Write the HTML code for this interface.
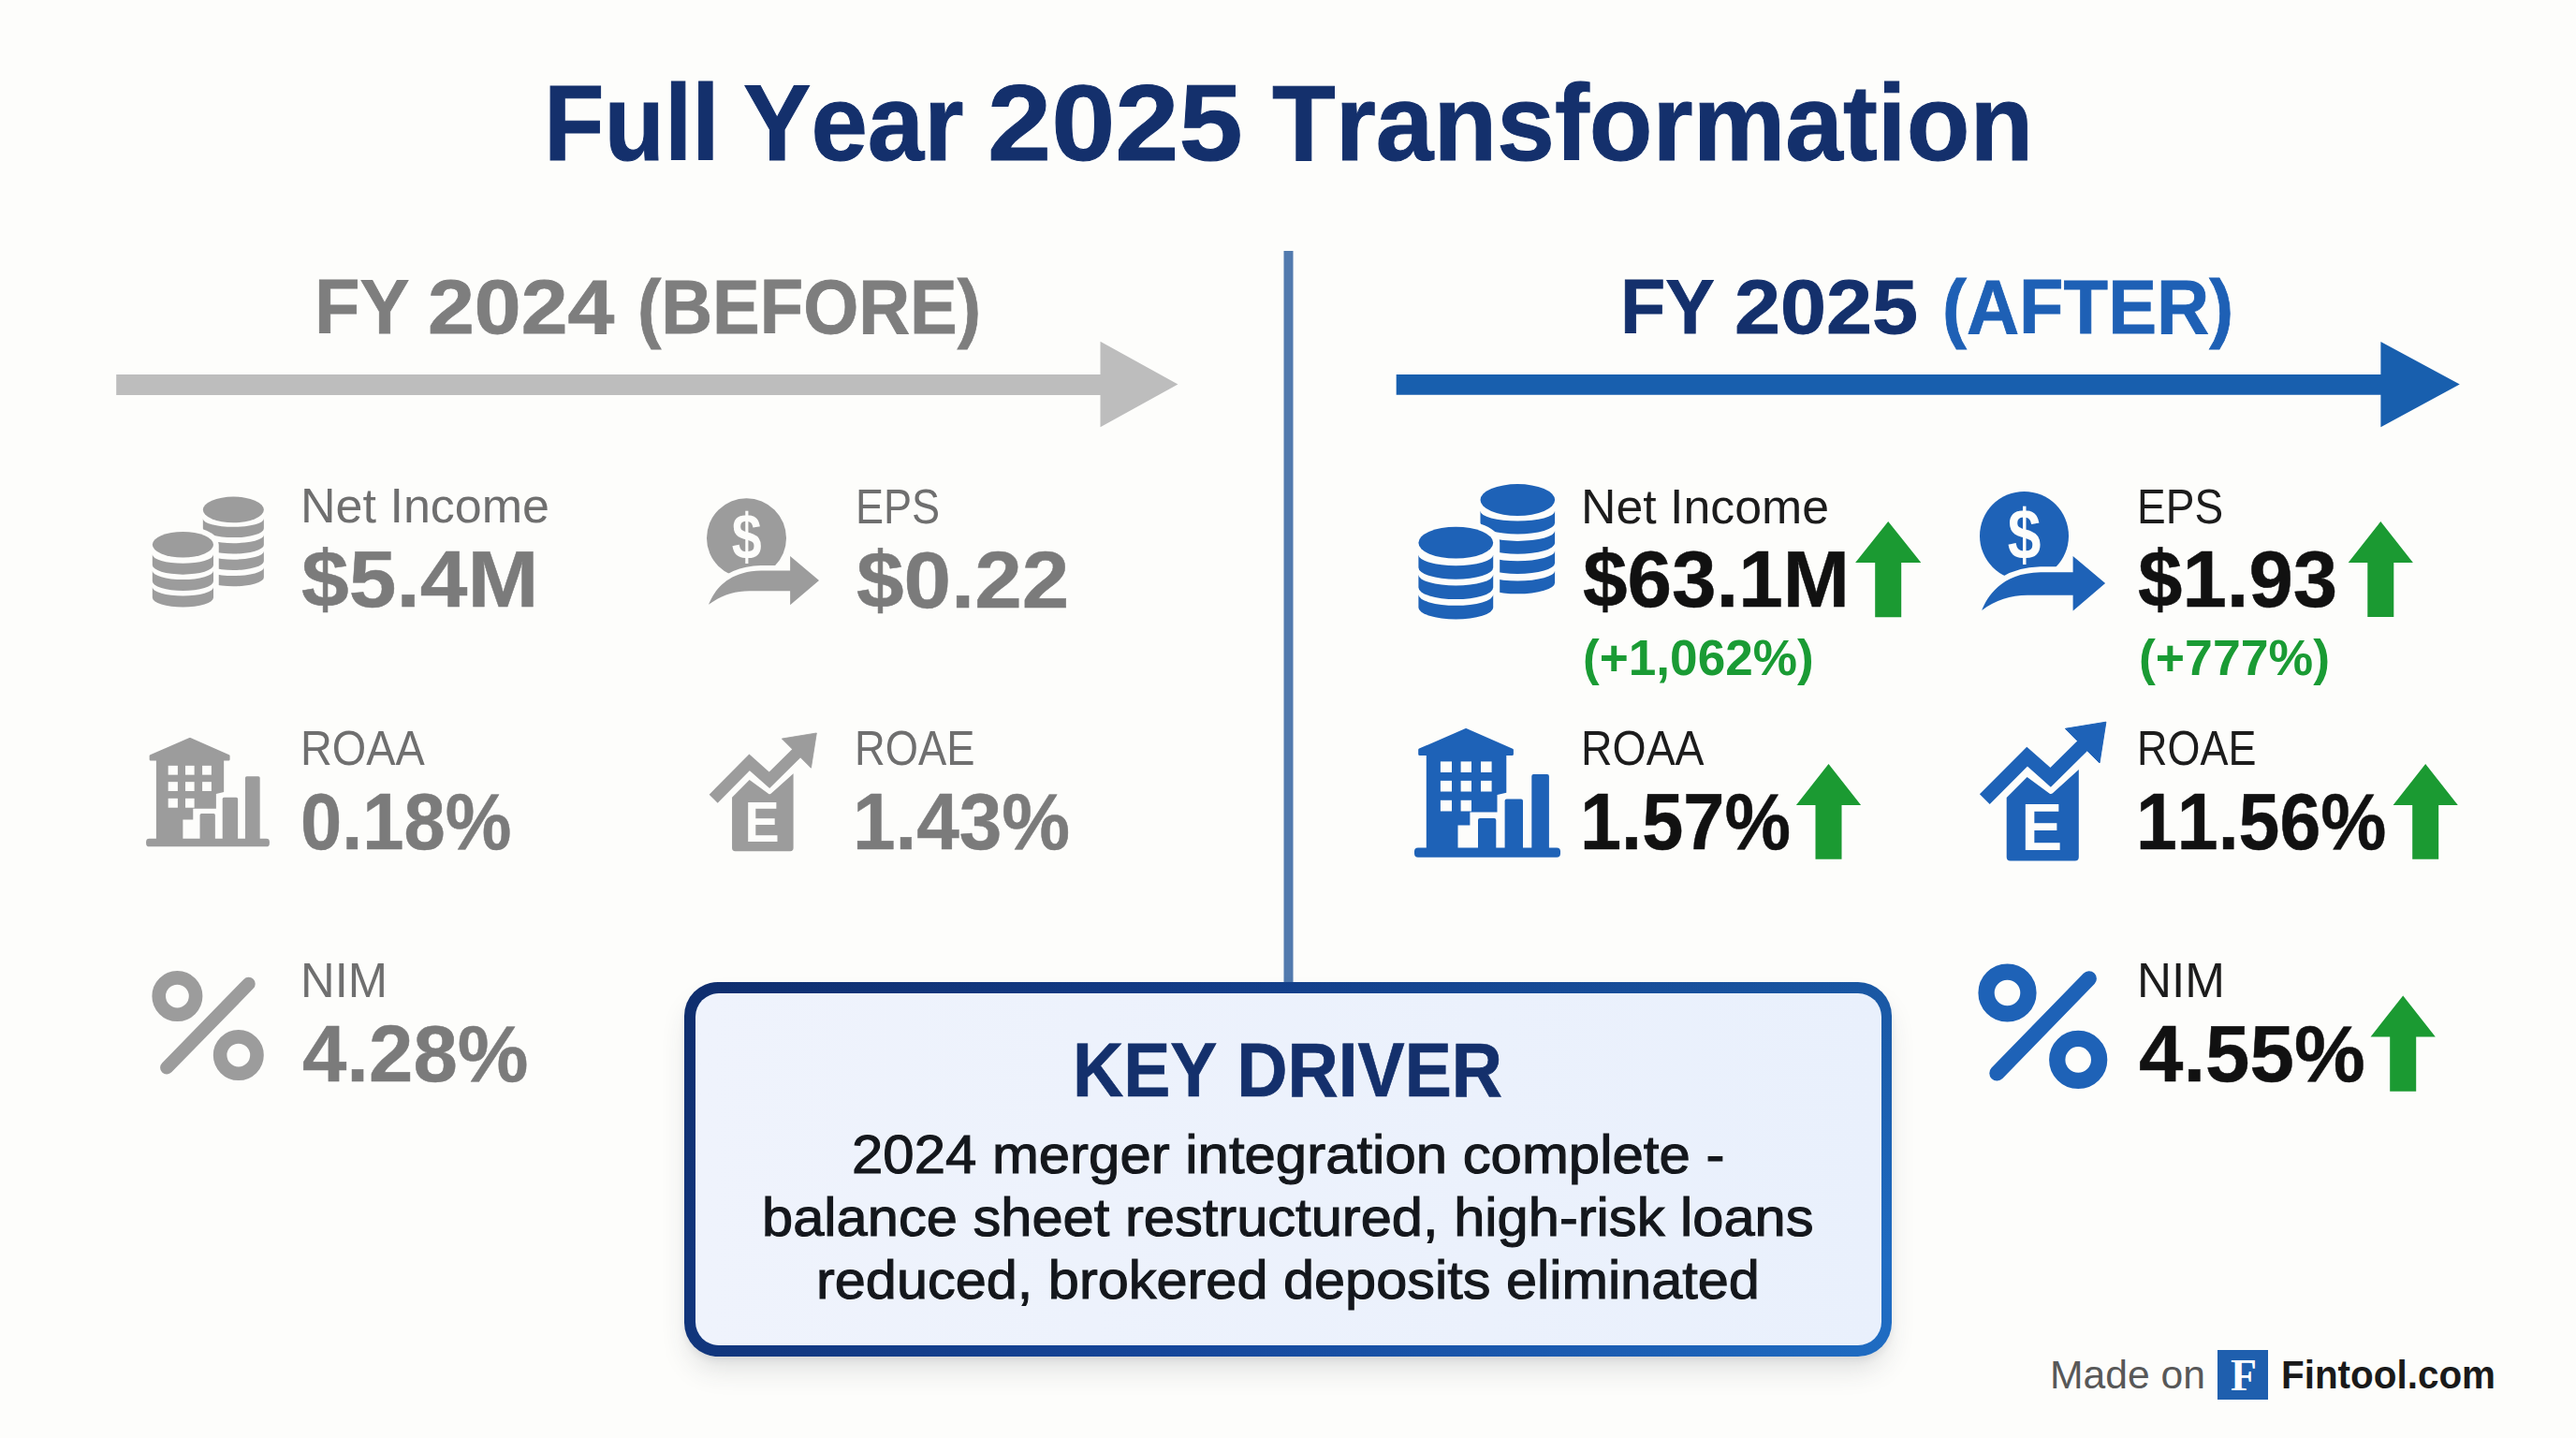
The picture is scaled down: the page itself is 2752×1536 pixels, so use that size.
<!DOCTYPE html>
<html lang="en">
<head>
<meta charset="utf-8">
<title>Full Year 2025 Transformation</title>
<style>
html,body,h1,h2,h3,p,header,section,footer{margin:0;padding:0;}
body{width:2752px;height:1536px;position:relative;overflow:hidden;background:#fdfdfb;font-family:"Liberation Sans", sans-serif;}
.t{position:absolute;display:block;white-space:pre;line-height:1;transform-origin:0 0;font-kerning:none;letter-spacing:0;}
#gfx{position:absolute;left:0;top:0;width:2752px;height:1536px;}
#box{position:absolute;left:731px;top:1049px;width:1290px;height:399.6px;box-sizing:border-box;border-radius:36px;
 background:linear-gradient(180deg,rgba(8,22,66,.24) 0%,rgba(8,22,66,0) 75%),linear-gradient(90deg,#11357b 0%,#15469a 40%,#1f6cc2 100%);
 box-shadow:0 18px 30px -5px rgba(50,55,70,.15),0 5px 9px -2px rgba(50,55,70,.09);}
#box i{position:absolute;left:11.5px;top:11.5px;right:11.5px;bottom:11.5px;border-radius:25px;background:linear-gradient(90deg,#eff3fc,#e9f0fc);}
#logo{position:absolute;left:2369px;top:1441.7px;width:54px;height:53.3px;background:#1f5fae;}
</style>
</head>
<body>
<svg id="gfx" width="2752" height="1536" viewBox="0 0 2752 1536">
<rect x="1371.5" y="268" width="10" height="790" fill="#527aae"/>
<path d="M124.2 400H1175.5V364.7L1258.4 410.5L1175.5 456.2V422H124.2Z" fill="#bdbdbd"/>
<path d="M1491.7 400H2543.4V364.9L2627.8 410.5L2543.4 456.3V421.8H1491.7Z" fill="#185fae"/>
<path d="M2017.2 557L2052.3 601H2031.2V659.2H2003.2V601H1982.1000000000001Z" fill="#1b9a32"/>
<path d="M2543.3 557L2577.9 601H2557.3V658.9H2529.3V601H2508.7000000000003Z" fill="#1b9a32"/>
<path d="M1953.5 815.9L1988.1 859.9H1967.5V917.7H1939.5V859.9H1918.9Z" fill="#1b9a32"/>
<path d="M2591.2 815.9L2625.7999999999997 859.9H2605.2V917.7H2577.2V859.9H2556.6Z" fill="#1b9a32"/>
<path d="M2567.2 1063.4L2601.7999999999997 1107.4H2581.2V1165.8H2553.2V1107.4H2532.6Z" fill="#1b9a32"/>
<g fill="#1e62b7"><ellipse cx="1621.3" cy="534.1" rx="39.8" ry="17"/><path d="M1581.5 545.80A39.8 10.8 0 0 0 1661.1 545.80V558.60A39.8 11.8 0 0 1 1581.5 558.60Z"/><path d="M1581.5 567.10A39.8 10.8 0 0 0 1661.1 567.10V579.90A39.8 11.8 0 0 1 1581.5 579.90Z"/><path d="M1581.5 588.40A39.8 10.8 0 0 0 1661.1 588.40V601.20A39.8 11.8 0 0 1 1581.5 601.20Z"/><path d="M1581.5 609.70A39.8 10.8 0 0 0 1661.1 609.70V622.50A39.8 11.8 0 0 1 1581.5 622.50Z"/><g fill="#fdfdfb" stroke="#fdfdfb" stroke-width="14" stroke-linejoin="round"><path d="M1515.3999999999999 579.7A39.9 16.9 0 0 1 1595.2 579.7V648.90A39.9 12.5 0 0 1 1515.3999999999999 648.90Z"/></g><ellipse cx="1555.3" cy="579.7" rx="39.9" ry="16.9"/><path d="M1515.3999999999999 592.70A39.9 11.5 0 0 0 1595.2 592.70V606.30A39.9 12.5 0 0 1 1515.3999999999999 606.30Z"/><path d="M1515.3999999999999 614.00A39.9 11.5 0 0 0 1595.2 614.00V627.60A39.9 12.5 0 0 1 1515.3999999999999 627.60Z"/><path d="M1515.3999999999999 635.30A39.9 11.5 0 0 0 1595.2 635.30V648.90A39.9 12.5 0 0 1 1515.3999999999999 648.90Z"/></g>
<g fill="#9c9c9c" transform="translate(222.30 589.60) scale(0.817) translate(-1588.20 -589.35)"><ellipse cx="1621.3" cy="534.1" rx="39.8" ry="17"/><path d="M1581.5 545.80A39.8 10.8 0 0 0 1661.1 545.80V558.60A39.8 11.8 0 0 1 1581.5 558.60Z"/><path d="M1581.5 567.10A39.8 10.8 0 0 0 1661.1 567.10V579.90A39.8 11.8 0 0 1 1581.5 579.90Z"/><path d="M1581.5 588.40A39.8 10.8 0 0 0 1661.1 588.40V601.20A39.8 11.8 0 0 1 1581.5 601.20Z"/><path d="M1581.5 609.70A39.8 10.8 0 0 0 1661.1 609.70V622.50A39.8 11.8 0 0 1 1581.5 622.50Z"/><g fill="#fdfdfb" stroke="#fdfdfb" stroke-width="14" stroke-linejoin="round"><path d="M1515.3999999999999 579.7A39.9 16.9 0 0 1 1595.2 579.7V648.90A39.9 12.5 0 0 1 1515.3999999999999 648.90Z"/></g><ellipse cx="1555.3" cy="579.7" rx="39.9" ry="16.9"/><path d="M1515.3999999999999 592.70A39.9 11.5 0 0 0 1595.2 592.70V606.30A39.9 12.5 0 0 1 1515.3999999999999 606.30Z"/><path d="M1515.3999999999999 614.00A39.9 11.5 0 0 0 1595.2 614.00V627.60A39.9 12.5 0 0 1 1515.3999999999999 627.60Z"/><path d="M1515.3999999999999 635.30A39.9 11.5 0 0 0 1595.2 635.30V648.90A39.9 12.5 0 0 1 1515.3999999999999 648.90Z"/></g>
<g fill="#1e62b7"><circle cx="2162.5" cy="572.4" r="47.5"/><path d="M2117.2 651.9C2123 638 2137 612 2180 611.2H2214.6V594L2249.1 622.9L2214.6 652.4V635.7H2166C2148 635.7 2132 641 2117.2 651.9Z" fill="#fdfdfb" stroke="#fdfdfb" stroke-width="12" stroke-linejoin="round"/><path d="M2117.2 651.9C2123 638 2137 612 2180 611.2H2214.6V594L2249.1 622.9L2214.6 652.4V635.7H2166C2148 635.7 2132 641 2117.2 651.9Z"/><text transform="translate(2144.8 597.2) scale(0.835 1)" font-family="Liberation Sans, sans-serif" font-weight="700" font-size="76.8" fill="#fdfdfb">$</text></g>
<g fill="#9c9c9c" transform="translate(814.95 589.55) scale(0.895) translate(-2182.00 -589.00)"><circle cx="2162.5" cy="572.4" r="47.5"/><path d="M2117.2 651.9C2123 638 2137 612 2180 611.2H2214.6V594L2249.1 622.9L2214.6 652.4V635.7H2166C2148 635.7 2132 641 2117.2 651.9Z" fill="#fdfdfb" stroke="#fdfdfb" stroke-width="12" stroke-linejoin="round"/><path d="M2117.2 651.9C2123 638 2137 612 2180 611.2H2214.6V594L2249.1 622.9L2214.6 652.4V635.7H2166C2148 635.7 2132 641 2117.2 651.9Z"/><text transform="translate(2144.8 597.2) scale(0.835 1)" font-family="Liberation Sans, sans-serif" font-weight="700" font-size="76.8" fill="#fdfdfb">$</text></g>
<g fill="#1e62b7"><rect x="1511" y="905.6" width="156" height="10.2" rx="4"/><path d="M1523.8 805.9H1609.3V846.7L1599.5 849V867.6H1570.4V881.6H1557.5V906H1523.8Z"/><path d="M1566.4 779.5L1615.4 801V805.5H1516.7V801Z" stroke="#1e62b7" stroke-width="3" stroke-linejoin="round"/><rect x="1538.9" y="813.4" width="12.1" height="11.6" fill="#fdfdfb"/><rect x="1538.9" y="833.9" width="12.1" height="11.6" fill="#fdfdfb"/><rect x="1538.9" y="854.8" width="12.1" height="11.7" fill="#fdfdfb"/><rect x="1560.6" y="813.4" width="11.4" height="11.6" fill="#fdfdfb"/><rect x="1560.6" y="833.9" width="11.4" height="11.6" fill="#fdfdfb"/><rect x="1560.6" y="854.8" width="11.4" height="11.7" fill="#fdfdfb"/><rect x="1582" y="813.4" width="11.6" height="11.6" fill="#fdfdfb"/><rect x="1582" y="833.9" width="11.6" height="11.6" fill="#fdfdfb"/><path d="M1579 906V875.9Q1579 873.9 1581 873.9H1596.3Q1598.3 873.9 1598.3 875.9V906Z"/><path d="M1607.6 906V855.6Q1607.6 853.6 1609.6 853.6H1625Q1627 853.6 1627 855.6V906Z"/><path d="M1636.3 906V828.9Q1636.3 826.9 1638.3 826.9H1652.9Q1654.9 826.9 1654.9 828.9V906Z"/></g>
<g fill="#9c9c9c" transform="translate(222.00 846.15) scale(0.845) translate(-1589.00 -846.90)"><rect x="1511" y="905.6" width="156" height="10.2" rx="4"/><path d="M1523.8 805.9H1609.3V846.7L1599.5 849V867.6H1570.4V881.6H1557.5V906H1523.8Z"/><path d="M1566.4 779.5L1615.4 801V805.5H1516.7V801Z" stroke="#9c9c9c" stroke-width="3" stroke-linejoin="round"/><rect x="1538.9" y="813.4" width="12.1" height="11.6" fill="#fdfdfb"/><rect x="1538.9" y="833.9" width="12.1" height="11.6" fill="#fdfdfb"/><rect x="1538.9" y="854.8" width="12.1" height="11.7" fill="#fdfdfb"/><rect x="1560.6" y="813.4" width="11.4" height="11.6" fill="#fdfdfb"/><rect x="1560.6" y="833.9" width="11.4" height="11.6" fill="#fdfdfb"/><rect x="1560.6" y="854.8" width="11.4" height="11.7" fill="#fdfdfb"/><rect x="1582" y="813.4" width="11.6" height="11.6" fill="#fdfdfb"/><rect x="1582" y="833.9" width="11.6" height="11.6" fill="#fdfdfb"/><path d="M1579 906V875.9Q1579 873.9 1581 873.9H1596.3Q1598.3 873.9 1598.3 875.9V906Z"/><path d="M1607.6 906V855.6Q1607.6 853.6 1609.6 853.6H1625Q1627 853.6 1627 855.6V906Z"/><path d="M1636.3 906V828.9Q1636.3 826.9 1638.3 826.9H1652.9Q1654.9 826.9 1654.9 828.9V906Z"/></g>
<g fill="#1e62b7"><path d="M2143.7 852L2165.6 829.9L2189.4 847.4Q2191.2 848.7 2192.9 847.2L2220.8 822.1V915.6Q2220.8 919.6 2216.8 919.6H2147.7Q2143.7 919.6 2143.7 915.6Z"/><path d="M2120.3 853.7L2165.6 808.1L2190.6 830.3L2226 795.4" fill="none" stroke="#1e62b7" stroke-width="15.2" stroke-linejoin="miter"/><path d="M2206.4 778.3L2249.9 771.2L2243 815Z" stroke="#1e62b7" stroke-width="1" stroke-linejoin="round"/><text transform="translate(2159.4 907.8) scale(0.924 1)" font-family="Liberation Sans, sans-serif" font-weight="700" font-size="70.8" fill="#fdfdfb">E</text></g>
<g fill="#9c9c9c" transform="translate(814.95 845.70) scale(0.85) translate(-2182.40 -844.95)"><path d="M2143.7 852L2165.6 829.9L2189.4 847.4Q2191.2 848.7 2192.9 847.2L2220.8 822.1V915.6Q2220.8 919.6 2216.8 919.6H2147.7Q2143.7 919.6 2143.7 915.6Z"/><path d="M2120.3 853.7L2165.6 808.1L2190.6 830.3L2226 795.4" fill="none" stroke="#9c9c9c" stroke-width="15.0" stroke-linejoin="miter"/><path d="M2206.4 778.3L2249.9 771.2L2243 815Z" stroke="#9c9c9c" stroke-width="1" stroke-linejoin="round"/><text transform="translate(2159.4 907.8) scale(0.924 1)" font-family="Liberation Sans, sans-serif" font-weight="700" font-size="70.8" fill="#fdfdfb">E</text></g>
<g fill="none" stroke="#1e62b7"><circle cx="2144.5" cy="1060.5" r="22.450000000000003" stroke-width="17.3"/><circle cx="2220.2" cy="1131.9" r="22.450000000000003" stroke-width="17.3"/><path d="M2231.7 1045.4L2133.5 1146.3" stroke-width="16.4" stroke-linecap="round"/></g>
<g fill="none" stroke="#9c9c9c"><circle cx="189.4" cy="1064.1" r="19.7" stroke-width="14.6"/><circle cx="254.8" cy="1127.1" r="19.7" stroke-width="14.6"/><path d="M265.6 1050.9L178.2 1140.4" stroke-width="14.2" stroke-linecap="round"/></g>
</svg>
<div id="box"><i></i></div>
<div id="logo"></div>
<header><h1>
<span class="t" style="left:581.4px;top:74.1px;font-size:114.4px;font-weight:700;color:#14306c;font-family:'Liberation Sans', sans-serif;transform:scaleX(0.9224);-webkit-text-stroke:1.0px #14306c;">Full</span>
<span class="t" style="left:793.6px;top:74.1px;font-size:114.4px;font-weight:700;color:#14306c;font-family:'Liberation Sans', sans-serif;transform:scaleX(0.9494);-webkit-text-stroke:1.0px #14306c;">Year</span>
<span class="t" style="left:1055.3px;top:74.1px;font-size:114.4px;font-weight:700;color:#14306c;font-family:'Liberation Sans', sans-serif;transform:scaleX(1.0715);-webkit-text-stroke:1.0px #14306c;">2025</span>
<span class="t" style="left:1359.3px;top:74.1px;font-size:114.4px;font-weight:700;color:#14306c;font-family:'Liberation Sans', sans-serif;transform:scaleX(0.9692);-webkit-text-stroke:1.0px #14306c;">Transformation</span>
</h1></header>
<section id="before"><h2>
<span class="t" style="left:336.3px;top:287.7px;font-size:80.7px;font-weight:700;color:#7e7e7e;font-family:'Liberation Sans', sans-serif;transform:scaleX(0.9835);-webkit-text-stroke:0.8px #7e7e7e;">FY</span>
<span class="t" style="left:457.3px;top:287.7px;font-size:80.7px;font-weight:700;color:#7e7e7e;font-family:'Liberation Sans', sans-serif;transform:scaleX(1.1105);-webkit-text-stroke:0.8px #7e7e7e;">2024</span>
<span class="t" style="left:681.0px;top:287.7px;font-size:80.7px;font-weight:700;color:#7e7e7e;font-family:'Liberation Sans', sans-serif;transform:scaleX(0.9410);-webkit-text-stroke:0.8px #7e7e7e;">(BEFORE)</span>
</h2>
<div class="metric">
<span class="t" style="left:320.7px;top:515.4px;font-size:51.6px;font-weight:400;color:#6f6f6f;font-family:'Liberation Sans', sans-serif;transform:scaleX(1.0085);">Net Income</span>
<span class="t" style="left:322.3px;top:577.2px;font-size:84.7px;font-weight:700;color:#7b7b7b;font-family:'Liberation Sans', sans-serif;transform:scaleX(1.0764);-webkit-text-stroke:0.5px #7b7b7b;">$5.4M</span>
</div><div class="metric">
<span class="t" style="left:913.8px;top:516.3px;font-size:51.6px;font-weight:400;color:#6f6f6f;font-family:'Liberation Sans', sans-serif;transform:scaleX(0.8733);">EPS</span>
<span class="t" style="left:914.5px;top:577.5px;font-size:84.7px;font-weight:700;color:#7b7b7b;font-family:'Liberation Sans', sans-serif;transform:scaleX(1.0730);-webkit-text-stroke:0.5px #7b7b7b;">$0.22</span>
</div><div class="metric">
<span class="t" style="left:320.8px;top:774.2px;font-size:51.6px;font-weight:400;color:#6f6f6f;font-family:'Liberation Sans', sans-serif;transform:scaleX(0.9084);">ROAA</span>
<span class="t" style="left:321.2px;top:836.1px;font-size:84.7px;font-weight:700;color:#7b7b7b;font-family:'Liberation Sans', sans-serif;transform:scaleX(0.9387);-webkit-text-stroke:0.5px #7b7b7b;">0.18%</span>
</div><div class="metric">
<span class="t" style="left:913.2px;top:774.2px;font-size:51.6px;font-weight:400;color:#6f6f6f;font-family:'Liberation Sans', sans-serif;transform:scaleX(0.8778);">ROAE</span>
<span class="t" style="left:911.1px;top:836.1px;font-size:84.7px;font-weight:700;color:#7b7b7b;font-family:'Liberation Sans', sans-serif;transform:scaleX(0.9669);-webkit-text-stroke:0.5px #7b7b7b;">1.43%</span>
</div><div class="metric">
<span class="t" style="left:321.3px;top:1022.1px;font-size:51.6px;font-weight:400;color:#6f6f6f;font-family:'Liberation Sans', sans-serif;transform:scaleX(0.9835);">NIM</span>
<span class="t" style="left:323.0px;top:1082.5px;font-size:85.3px;font-weight:700;color:#7b7b7b;font-family:'Liberation Sans', sans-serif;transform:scaleX(0.9984);-webkit-text-stroke:0.5px #7b7b7b;">4.28%</span>
</div></section>
<section id="after"><h2>
<span class="t" style="left:1730.5px;top:287.7px;font-size:80.7px;font-weight:700;color:#14306c;font-family:'Liberation Sans', sans-serif;transform:scaleX(0.9773);-webkit-text-stroke:0.8px #14306c;">FY</span>
<span class="t" style="left:1852.9px;top:287.7px;font-size:80.7px;font-weight:700;color:#14306c;font-family:'Liberation Sans', sans-serif;transform:scaleX(1.0928);-webkit-text-stroke:0.8px #14306c;">2025</span>
<span class="t" style="left:2074.8px;top:287.7px;font-size:80.7px;font-weight:700;color:#1e60b5;font-family:'Liberation Sans', sans-serif;transform:scaleX(0.9642);-webkit-text-stroke:0.8px #1e60b5;">(AFTER)</span>
</h2>
<div class="metric">
<span class="t" style="left:1688.8px;top:515.5px;font-size:51.6px;font-weight:400;color:#1c1c1c;font-family:'Liberation Sans', sans-serif;transform:scaleX(1.0046);">Net Income</span>
<span class="t" style="left:1691.1px;top:577.3px;font-size:84.7px;font-weight:700;color:#111111;font-family:'Liberation Sans', sans-serif;transform:scaleX(1.0088);-webkit-text-stroke:0.5px #111111;">$63.1M</span>
<span class="t" style="left:1691.0px;top:676.3px;font-size:53.5px;font-weight:700;color:#1a9b34;font-family:'Liberation Sans', sans-serif;transform:scaleX(0.9936);">(+1,062%)</span>
</div><div class="metric">
<span class="t" style="left:2283.0px;top:515.9px;font-size:51.6px;font-weight:400;color:#1c1c1c;font-family:'Liberation Sans', sans-serif;transform:scaleX(0.8919);">EPS</span>
<span class="t" style="left:2284.3px;top:577.1px;font-size:84.7px;font-weight:700;color:#111111;font-family:'Liberation Sans', sans-serif;transform:scaleX(1.0059);-webkit-text-stroke:0.5px #111111;">$1.93</span>
<span class="t" style="left:2284.7px;top:676.3px;font-size:53.5px;font-weight:700;color:#1a9b34;font-family:'Liberation Sans', sans-serif;transform:scaleX(1.0013);">(+777%)</span>
</div><div class="metric">
<span class="t" style="left:1688.8px;top:774.3px;font-size:51.6px;font-weight:400;color:#1c1c1c;font-family:'Liberation Sans', sans-serif;transform:scaleX(0.8999);">ROAA</span>
<span class="t" style="left:1687.8px;top:835.7px;font-size:84.7px;font-weight:700;color:#111111;font-family:'Liberation Sans', sans-serif;transform:scaleX(0.9368);-webkit-text-stroke:0.5px #111111;">1.57%</span>
</div><div class="metric">
<span class="t" style="left:2283.1px;top:774.3px;font-size:51.6px;font-weight:400;color:#1c1c1c;font-family:'Liberation Sans', sans-serif;transform:scaleX(0.8714);">ROAE</span>
<span class="t" style="left:2282.1px;top:835.7px;font-size:84.7px;font-weight:700;color:#111111;font-family:'Liberation Sans', sans-serif;transform:scaleX(0.9306);-webkit-text-stroke:0.5px #111111;">11.56%</span>
</div><div class="metric">
<span class="t" style="left:2282.6px;top:1021.9px;font-size:51.6px;font-weight:400;color:#1c1c1c;font-family:'Liberation Sans', sans-serif;transform:scaleX(0.9928);">NIM</span>
<span class="t" style="left:2284.7px;top:1082.7px;font-size:85.3px;font-weight:700;color:#111111;font-family:'Liberation Sans', sans-serif;transform:scaleX(0.9992);-webkit-text-stroke:0.5px #111111;">4.55%</span>
</div></section>
<section id="key-driver"><h3>
<span class="t" style="left:1146.3px;top:1101.5px;font-size:81.3px;font-weight:700;color:#14306c;font-family:'Liberation Sans', sans-serif;transform:scaleX(0.9237);-webkit-text-stroke:0.7px #14306c;">KEY DRIVER</span>
</h3><p>
<span class="t" style="left:909.7px;top:1205.4px;font-size:57.1px;font-weight:400;color:#14171c;font-family:'Liberation Sans', sans-serif;transform:scaleX(1.0492);-webkit-text-stroke:1.1px #14171c;">2024 merger integration complete -</span>
<span class="t" style="left:813.9px;top:1272.0px;font-size:57.1px;font-weight:400;color:#14171c;font-family:'Liberation Sans', sans-serif;transform:scaleX(1.0444);-webkit-text-stroke:1.1px #14171c;">balance sheet restructured, high-risk loans</span>
<span class="t" style="left:872.2px;top:1339.2px;font-size:57.1px;font-weight:400;color:#14171c;font-family:'Liberation Sans', sans-serif;transform:scaleX(1.0412);-webkit-text-stroke:1.1px #14171c;">reduced, brokered deposits eliminated</span>
</p></section>
<footer>
<span class="t" style="left:2190.2px;top:1448.1px;font-size:42.0px;font-weight:400;color:#585858;font-family:'Liberation Sans', sans-serif;transform:scaleX(1.0159);">Made on</span>
<span class="t" style="left:2383.1px;top:1443.6px;font-size:49.2px;font-weight:700;color:#ffffff;font-family:'Liberation Serif', serif;transform:scaleX(0.9313);">F</span>
<span class="t" style="left:2436.6px;top:1447.7px;font-size:41.7px;font-weight:700;color:#1a1a1a;font-family:'Liberation Sans', sans-serif;transform:scaleX(0.9698);">Fintool.com</span>
</footer>
</body>
</html>
